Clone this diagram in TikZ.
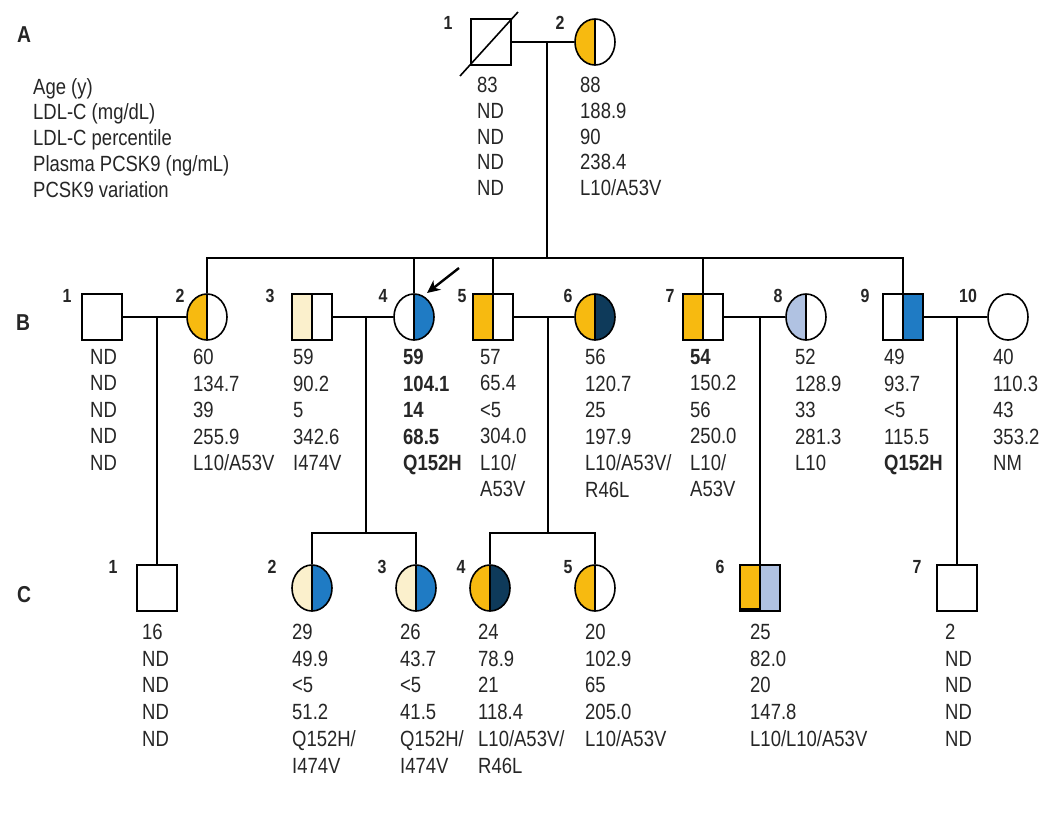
\documentclass[tikz,border=0pt]{standalone}
\usepackage{fontspec}
\setmainfont{Liberation Sans}[FakeStretch=0.84]
\usetikzlibrary{shapes.geometric,arrows.meta}
\definecolor{gold}{HTML}{F7BA10}
\definecolor{pblue}{HTML}{1F7BC4}
\definecolor{navy}{HTML}{0E3A5A}
\definecolor{cream}{HTML}{FBF0CC}
\definecolor{lblue}{HTML}{B0C2E2}
\definecolor{txt}{HTML}{262626}
\tikzset{
 lw/.style={line width=1.6pt},
 male/.style={rectangle,draw,lw,minimum width=40pt,minimum height=46pt,inner sep=0pt},
 female/.style={ellipse,draw,lw,minimum width=40pt,minimum height=46pt,inner sep=0pt},
 halves/.style 2 args={path picture={
   \fill[#1] (path picture bounding box.south west) rectangle (path picture bounding box.north);
   \fill[#2] (path picture bounding box.south) rectangle (path picture bounding box.north east);
   \draw[line width=1.6pt] (path picture bounding box.north) -- (path picture bounding box.south);}},
 data/.style={anchor=north west,inner sep=0pt,align=left,text=txt,font=\fontsize{22}{26.5}\selectfont},
 dataA/.style={data,font=\fontsize{22}{25.8}\selectfont},
 dataC/.style={data,font=\fontsize{22}{26.7}\selectfont},
 num/.style={inner sep=0pt,text=txt,font=\bfseries\fontsize{19}{19}\selectfont},
 gen/.style={inner sep=0pt,text=txt,font=\bfseries\fontsize{23}{23}\selectfont},
}
\begin{document}
\begin{tikzpicture}[x=1pt,y=-1pt]
\useasboundingbox (0,0) rectangle (1047,828);
\fill[white] (0,0) rectangle (1047,828);

% generation letters
\node[gen] (gA) at (24,35) {A};
\node[gen] (gB) at (23,323) {B};
\node[gen] (gC) at (24,595) {C};

% legend
\node[dataA] (legend) at (33,78) {Age (y)\\LDL-C (mg/dL)\\LDL-C percentile\\Plasma PCSK9 (ng/mL)\\PCSK9 variation};

% ---------- generation A ----------
\node[male] (A1) at (491,42) {};
\coordinate (slS) at (460,76);
\coordinate (slE) at (518,12);
\draw[lw] (slS) -- (slE);
\node[female,halves={gold}{white}] (A2) at (595,42) {};
\node[num] (nA1) at (448,23) {1};
\node[num] (nA2) at (560,23) {2};
\node[dataA] (dA1) at (477,77) {83\\ND\\ND\\ND\\ND};
\node[dataA] (dA2) at (580,77) {88\\188.9\\90\\238.4\\L10/A53V};

% ---------- generation B ----------
\node[male] (B1) at (102,317) {};
\node[female,halves={gold}{white}] (B2) at (207,317) {};
\node[male,halves={cream}{white}] (B3) at (312,317) {};
\node[female,halves={white}{pblue}] (B4) at (414,317) {};
\node[male,halves={gold}{white}] (B5) at (493,317) {};
\node[female,halves={gold}{navy}] (B6) at (595,317) {};
\node[male,halves={gold}{white}] (B7) at (703,317) {};
\node[female,halves={lblue}{white}] (B8) at (806,317) {};
\node[male,halves={white}{pblue}] (B9) at (903,317) {};
\node[female] (B10) at (1008,317) {};

\node[num] (nB1) at (67,296) {1};
\node[num] (nB2) at (180,296) {2};
\node[num] (nB3) at (270,296) {3};
\node[num] (nB4) at (383,296) {4};
\node[num] (nB5) at (462,296) {5};
\node[num] (nB6) at (568,296) {6};
\node[num] (nB7) at (670,296) {7};
\node[num] (nB8) at (778,296) {8};
\node[num] (nB9) at (865,296) {9};
\node[num] (nB10) at (968,296) {10};

\node[data] (dB1) at (90,349) {ND\\ND\\ND\\ND\\ND};
\node[data] (dB2) at (193,349) {60\\134.7\\39\\255.9\\L10/A53V};
\node[data] (dB3) at (293,349) {59\\90.2\\5\\342.6\\I474V};
\node[data,font=\bfseries\fontsize{22}{26.5}\selectfont] (dB4) at (403,349) {59\\104.1\\14\\68.5\\Q152H};
\node[data] (dB5) at (480,349) {57\\65.4\\<5\\304.0\\L10/\\A53V};
\node[data] (dB6) at (585,349) {56\\120.7\\25\\197.9\\L10/A53V/\\R46L};
\node[data] (dB7) at (690,349) {\textbf{54}\\150.2\\56\\250.0\\L10/\\A53V};
\node[data] (dB8) at (795,349) {52\\128.9\\33\\281.3\\L10};
\node[data] (dB9) at (884,349) {49\\93.7\\<5\\115.5\\\textbf{Q152H}};
\node[data] (dB10) at (993,349) {40\\110.3\\43\\353.2\\NM};

% proband arrow
\coordinate (arS) at (459,268);
\coordinate (arE) at (427,293);
\draw[line width=2.4pt,-{Stealth[length=13pt,width=12pt]}] (arS) -- (arE);

% ---------- generation C ----------
\node[male] (C1) at (157,588) {};
\node[female,halves={cream}{pblue}] (C2) at (312,588) {};
\node[female,halves={cream}{pblue}] (C3) at (416,588) {};
\node[female,halves={gold}{navy}] (C4) at (490,588) {};
\node[female,halves={gold}{white}] (C5) at (595,588) {};
\node[male,halves={gold}{lblue}] (C6) at (760,588) {};
\fill[black] (C6.south west) rectangle ([yshift=4pt]C6.south);
\node[male] (C7) at (957,588) {};

\node[num] (nC1) at (113,567) {1};
\node[num] (nC2) at (272,567) {2};
\node[num] (nC3) at (382,567) {3};
\node[num] (nC4) at (461,567) {4};
\node[num] (nC5) at (568,567) {5};
\node[num] (nC6) at (720,567) {6};
\node[num] (nC7) at (917,567) {7};

\node[dataC] (dC1) at (142,624) {16\\ND\\ND\\ND\\ND};
\node[dataC] (dC2) at (292,624) {29\\49.9\\<5\\51.2\\Q152H/\\I474V};
\node[dataC] (dC3) at (400,624) {26\\43.7\\<5\\41.5\\Q152H/\\I474V};
\node[dataC] (dC4) at (478,624) {24\\78.9\\21\\118.4\\L10/A53V/\\R46L};
\node[dataC] (dC5) at (585,624) {20\\102.9\\65\\205.0\\L10/A53V};
\node[dataC] (dC6) at (750,624) {25\\82.0\\20\\147.8\\L10/L10/A53V};
\node[dataC] (dC7) at (945,624) {2\\ND\\ND\\ND\\ND};

% ---------- connectors ----------
\draw[lw] (A1.east) -- (A2.west);
\coordinate (mA) at (547,42);
\coordinate (sA) at (547,258);
\draw[lw] (mA) -- (sA);
\draw[lw] (B2.north) -- (B2.north |- sA) -- (B9.north |- sA) -- (B9.north);
\foreach \p in {B4,B5,B7} \draw[lw] (\p.north |- sA) -- (\p.north);

\draw[lw] (B1.east) -- (B2.west);
\draw[lw] (B3.east) -- (B4.west);
\draw[lw] (B5.east) -- (B6.west);
\draw[lw] (B7.east) -- (B8.west);
\draw[lw] (B9.east) -- (B10.west);

\draw[lw] (C1.north |- B1) -- (C1.north);
\coordinate (m34) at (366,317);
\coordinate (s34) at (366,533);
\draw[lw] (m34) -- (s34);
\draw[lw] (C2.north) -- (C2.north |- s34) -- (C3.north |- s34) -- (C3.north);
\coordinate (m56) at (548,317);
\coordinate (s56) at (548,533);
\draw[lw] (m56) -- (s56);
\draw[lw] (C4.north) -- (C4.north |- s56) -- (C5.north |- s56) -- (C5.north);
\draw[lw] (C6.north |- B7) -- (C6.north);
\draw[lw] (C7.north |- B9) -- (C7.north);
\end{tikzpicture}
\end{document}
